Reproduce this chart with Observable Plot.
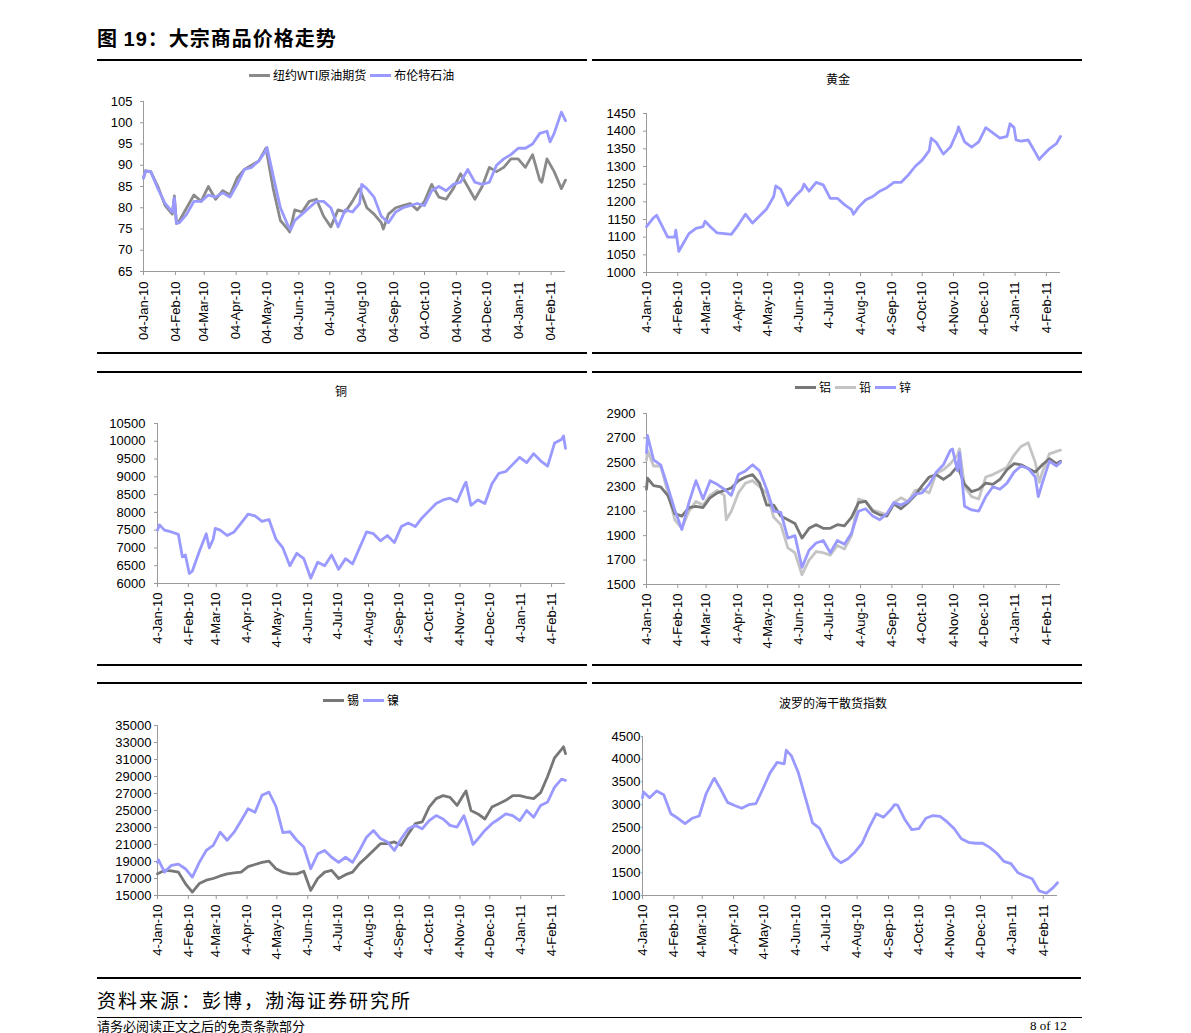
<!DOCTYPE html>
<html><head><meta charset="utf-8">
<script src="https://cdn.jsdelivr.net/npm/d3@7"></script>
<script src="https://cdn.jsdelivr.net/npm/@observablehq/plot@0.6"></script>
<style>
body{margin:0;width:1191px;height:1033px;overflow:hidden;background:#fff;position:relative;font-family:"Liberation Sans",Arial,sans-serif;color:#000}
.rule{position:absolute;height:2px;background:#000}
.cjk{font-family:"Noto Sans CJK SC",sans-serif}
.leg{position:absolute;font-size:12px;line-height:16px;white-space:nowrap;font-family:"Noto Sans CJK SC",sans-serif;display:flex;align-items:center}
.sw{display:inline-block;width:21px;height:3px;margin-right:3px}
.lt{margin-right:4px}
.ttl{position:absolute;font-size:12px;line-height:16px;white-space:nowrap;font-family:"Noto Sans CJK SC",sans-serif;transform:translateX(-50%)}
.panel{position:absolute}
g[aria-label="x-axis tick"], g[aria-label="y-axis tick"]{stroke:#9a9a9a}
</style></head>
<body>
<script>
// ---------- data ----------
const dates = ["2010-01-04","2010-01-11","2010-01-18","2010-01-25","2010-02-01","2010-02-08","2010-02-15","2010-02-22","2010-03-01","2010-03-08","2010-03-15","2010-03-22","2010-03-29","2010-04-05","2010-04-12","2010-04-19","2010-04-26","2010-05-03","2010-05-10","2010-05-17","2010-05-24","2010-05-31","2010-06-07","2010-06-14","2010-06-21","2010-06-28","2010-07-05","2010-07-12","2010-07-19","2010-07-26","2010-08-02","2010-08-09","2010-08-16","2010-08-23","2010-08-30","2010-09-06","2010-09-13","2010-09-20","2010-09-27","2010-10-04","2010-10-11","2010-10-18","2010-10-25","2010-11-01","2010-11-08","2010-11-15","2010-11-22","2010-11-29","2010-12-06","2010-12-13","2010-12-20","2010-12-27","2011-01-03","2011-01-10","2011-01-17","2011-01-24","2011-01-31","2011-02-07","2011-02-14","2011-02-18"];
const tickDates = ["2010-01-04","2010-02-04","2010-03-04","2010-04-04","2010-05-04","2010-06-04","2010-07-04","2010-08-04","2010-09-04","2010-10-04","2010-11-04","2010-12-04","2011-01-04","2011-02-04"];
const xDomain = ["2010-01-04","2011-02-18"];

// weekly readings
const wti   = [87,88.5,85,80.5,78.5,77,80,83,81.5,85,82,84,83,87,89,90,91,94,84.5,77,75,79.5,79,81.5,82,78,75.5,79.5,79,81.5,84.5,80,78.5,76.5,78.5,80,80.5,81,79.5,81.5,85.5,82.5,82,84.5,88,85,82,85,89.5,88.5,89.5,91.5,91.5,89.5,92.5,86.5,91.5,88.5,84.5,86.5];
const brent = [87,88.5,84.5,81,79,76.5,78.5,81.5,81.5,83,82.5,83.5,82.5,85.5,89,89.5,91,93.5,87.5,80,76,77,78.5,80,81.5,81.5,80,75.5,79.5,79,81,84.5,82.5,78,76.5,79,80,80.5,81,80.5,84,85,84,85.5,86,89,86,85.5,86,90,91.5,92.5,94,94,95,97.5,98,97.5,102.5,100.5];
const gold  = [1130,1155,1140,1100,1100,1075,1110,1125,1130,1130,1112,1110,1108,1135,1165,1140,1160,1180,1215,1235,1190,1215,1235,1230,1255,1248,1210,1210,1192,1178,1185,1205,1215,1230,1240,1255,1255,1275,1300,1318,1345,1368,1335,1355,1400,1370,1355,1370,1410,1395,1380,1385,1410,1372,1375,1340,1330,1350,1365,1385];
const copper = [7500,7500,7450,7380,6800,6350,6900,7400,7250,7500,7350,7450,7700,7950,7900,7750,7800,7250,7000,6500,6850,6700,6150,6600,6500,6800,6400,6700,6550,7000,7450,7400,7200,7350,7150,7600,7700,7600,7850,8050,8250,8350,8400,8300,8750,8200,8350,8250,8800,9100,9150,9350,9550,9400,9650,9450,9300,9950,10050,9800];
const aluminum = [2280,2310,2300,2230,2080,2060,2130,2140,2130,2210,2250,2270,2290,2350,2380,2400,2330,2150,2150,2060,2030,2000,1880,1960,1990,1960,1960,1990,1980,2050,2170,2180,2100,2070,2060,2160,2120,2170,2230,2310,2380,2400,2360,2400,2470,2320,2260,2280,2330,2320,2360,2440,2490,2480,2450,2420,2480,2530,2490,2510];
const lead = [2520,2470,2470,2260,2030,1960,2100,2180,2150,2230,2270,2230,2100,2250,2330,2350,2300,2250,2050,1990,1800,1760,1580,1700,1770,1760,1740,1820,1790,1900,2200,2180,2110,2090,2070,2170,2210,2180,2270,2280,2250,2410,2440,2490,2560,2300,2220,2200,2380,2400,2430,2460,2560,2630,2660,2500,2420,2570,2590,2600];
const zinc = [2580,2520,2480,2300,2110,1950,2170,2350,2200,2350,2320,2280,2230,2400,2430,2480,2430,2280,2100,2090,1880,1900,1640,1780,1840,1860,1760,1860,1830,1920,2100,2120,2060,2030,2080,2170,2150,2180,2240,2250,2320,2420,2480,2600,2430,2140,2110,2100,2220,2300,2280,2330,2420,2470,2450,2380,2330,2510,2470,2500];
const tin = [17550,17950,17900,17750,16400,15400,16400,16800,17000,17300,17550,17650,17750,18400,18650,18900,19050,18150,17750,17550,17550,17850,15600,17000,17750,17950,17000,17450,17750,18750,19500,20300,21100,21100,21300,20900,22250,23450,23650,25400,26400,26750,26550,25600,26950,25000,24600,24000,25400,25800,26200,26750,26750,26550,26400,27100,29000,31200,32200,31700];
const nickel = [18900,17750,18550,18700,18150,17150,18900,20300,20900,22450,21500,22450,23800,25200,24800,26800,27160,25500,22400,22500,21500,20700,18150,19900,20300,19500,18900,19500,18900,20300,21850,22650,21700,21300,20300,21700,22850,23250,22850,23800,24400,24000,23250,23050,24400,21850,21650,22650,23450,24000,24600,24400,23800,25000,24200,25600,26000,27750,28700,28550];
const bdi = [3150,3150,3300,3220,2800,2700,2580,2700,2750,3250,3550,3350,3050,2980,2920,3000,3020,3350,3700,3930,3900,4080,3700,3150,2600,2480,2150,1850,1720,1810,1960,2150,2500,2800,2720,2880,2990,2680,2450,2470,2700,2760,2740,2620,2470,2250,2170,2150,2150,2060,1930,1750,1700,1500,1430,1370,1100,1050,1180,1280];

// extra readings at visible peaks and troughs between the weekly points
const wtiExtra = [["2010-01-06",88.7],["2010-02-03",82.8],["2010-02-05",76.3],["2010-05-26",74.3],["2010-08-25",75],["2011-01-26",86]];
const brentExtra = [["2010-01-06",88.7],["2010-02-03",82.3],["2010-02-05",76.3],["2010-05-04",94.2],["2010-05-27",74.8],["2010-08-04",85.5],["2011-02-03",95.5]];
const goldExtra = [["2010-01-14",1162],["2010-02-02",1120],["2010-02-05",1060],["2010-03-03",1145],["2010-05-12",1245],["2010-06-09",1250],["2010-07-28",1165],["2010-10-13",1380],["2010-11-09",1412],["2010-12-30",1421],["2011-01-05",1375],["2011-01-28",1320]];
const copperExtra = [["2010-01-06",7650],["2010-01-29",6750],["2010-02-05",6280],["2010-02-25",7000],["2010-03-03",7550],["2010-11-10",8850],["2011-02-16",10150]];
const aluminumExtra = [["2010-01-05",2370]];
const leadExtra = [["2010-01-05",2600],["2010-03-24",2030],["2010-11-10",2610],["2011-01-28",2336]];
const zincExtra = [["2010-01-05",2720],["2010-11-03",2610],["2010-11-10",2580],["2011-01-27",2220]];
const tinExtra = [["2010-11-10",27300],["2011-02-16",32500]];
const nickelExtra = [["2010-01-05",19200],["2010-11-17",21000]];
const bdiExtra = [["2010-01-05",3280],["2010-03-16",3580],["2010-05-26",4200],["2010-09-10",3000]];

// ---------- helpers ----------
const root = document.body;
function add(html){ root.insertAdjacentHTML("beforeend", html); }
function toRows(values, extra){
  const rows = dates.map((d,i)=>({date:new Date(d), value:values[i]}));
  for (const [d,v] of (extra||[])) rows.push({date:new Date(d), value:v});
  return rows.sort((a,b)=>a.date-b.date);
}

function panel(o){
  const x0 = new Date(xDomain[0]), x1 = new Date(xDomain[1]);
  const marks = [
    Plot.ruleX([x0],{stroke:"#9a9a9a", strokeWidth:1}),
    Plot.ruleY([o.y[0]],{stroke:"#9a9a9a", strokeWidth:1})
  ];
  for (const s of o.series) {
    marks.push(Plot.lineY(toRows(s.values, s.extra),{x:"date", y:"value", stroke:s.color, strokeWidth:2.8}));
  }
  const svg = Plot.plot({
    width:490, height:o.height,
    marginTop:o.mt, marginBottom:o.mb, marginLeft:o.ml, marginRight:o.mr,
    style:{fontFamily:'"Liberation Sans",Arial,sans-serif', fontSize:"13px", color:"#000", background:"transparent", overflow:"visible"},
    x:{type:"utc", domain:[x0,x1], ticks:tickDates.map(d=>new Date(d)), tickFormat:d3.utcFormat(o.fmt), tickRotate:-90, tickSize:4, tickPadding:o.xpad ?? 5, label:null},
    y:{domain:o.y, ticks:d3.range(o.y[0], o.y[1]+o.step/2, o.step), tickFormat:d3.format("d"), tickSize:o.ytick ?? 3, tickPadding:o.ypad, label:null},
    marks
  });
  const div = document.createElement("div");
  div.className = "panel";
  div.style.left = o.left + "px";
  div.style.top = o.top + "px";
  div.appendChild(svg);
  root.appendChild(div);
}

// ---------- page furniture ----------
add('<div class="cjk" style="position:absolute;left:97px;top:25px;font-size:20px;font-weight:bold;letter-spacing:1px;line-height:26px;white-space:nowrap">图 <span style="font-family:\'Liberation Sans\',Arial,sans-serif">19</span>：大宗商品价格走势</div>');
for (const y of [59,352,371,664,682]) {
  add(`<div class="rule" style="left:97px;top:${y}px;width:490px"></div>`);
  add(`<div class="rule" style="left:592px;top:${y}px;width:490px"></div>`);
}
add('<div class="rule" style="left:97px;top:977px;width:984px"></div>');
add('<div class="rule" style="left:97px;top:1017px;width:985px;height:1px"></div>');
add('<div class="cjk" style="position:absolute;left:97px;top:987px;font-size:19px;letter-spacing:2px;line-height:26px;white-space:nowrap">资料来源：彭博，渤海证券研究所</div>');
add('<div class="cjk" style="position:absolute;left:97px;top:1019px;font-size:13px;line-height:13px;white-space:nowrap">请务必阅读正文之后的免责条款部分</div>');
add('<div style="position:absolute;left:1030px;top:1019px;font-size:13px;line-height:13px;font-family:\'Liberation Serif\',serif;white-space:nowrap">8 of 12</div>');

// legends & titles
add('<div class="leg" style="left:249px;top:67px"><span class="sw" style="background:#8a8a8a"></span><span class="lt">纽约WTI原油期货</span><span class="sw" style="background:#9999ff"></span><span>布伦特石油</span></div>');
add('<div class="ttl" style="left:838px;top:71px">黄金</div>');
add('<div class="ttl" style="left:341px;top:383px">铜</div>');
add('<div class="leg" style="left:795px;top:379px"><span class="sw" style="background:#777"></span><span class="lt">铝</span><span class="sw" style="background:#c4c4c4"></span><span class="lt">铅</span><span class="sw" style="background:#9999ff"></span><span>锌</span></div>');
add('<div class="leg" style="left:323px;top:692px"><span class="sw" style="background:#777"></span><span class="lt">锡</span><span class="sw" style="background:#9999ff"></span><span>镍</span></div>');
add('<div class="ttl" style="left:833px;top:695px">波罗的海干散货指数</div>');

// ---------- panels ----------
panel({left:97, top:88, height:262, mt:13, mb:79, ml:46, mr:22, y:[65,105], step:5, fmt:"%d-%b-%y", ypad:8, xpad:6,
  series:[{values:wti,extra:wtiExtra,color:"#8a8a8a"},{values:brent,extra:brentExtra,color:"#9999ff"}]});
panel({left:592, top:95, height:255, mt:18, mb:78, ml:54, mr:22, y:[1000,1450], step:50, fmt:"%-d-%b-%y", ypad:8,
  series:[{values:gold,extra:goldExtra,color:"#9999ff"}]});
panel({left:97, top:405, height:257, mt:18, mb:79, ml:60, mr:22, y:[6000,10500], step:500, fmt:"%-d-%b-%y", ypad:9,
  series:[{values:copper,extra:copperExtra,color:"#9999ff"}]});
panel({left:592, top:400, height:262, mt:13, mb:78, ml:54, mr:22, y:[1500,2900], step:200, fmt:"%-d-%b-%y", ypad:8,
  series:[{values:lead,extra:leadExtra,color:"#c4c4c4"},{values:aluminum,extra:aluminumExtra,color:"#777"},{values:zinc,extra:zincExtra,color:"#9999ff"}]});
panel({left:97, top:712, height:263, mt:13, mb:80, ml:60, mr:22, y:[15000,35000], step:2000, fmt:"%-d-%b-%y", ypad:3,
  series:[{values:tin,extra:tinExtra,color:"#777"},{values:nickel,extra:nickelExtra,color:"#9999ff"}]});
panel({left:592, top:720, height:255, mt:16, mb:80, ml:50, mr:25, y:[1000,4500], step:500, fmt:"%-d-%b-%y", ypad:1, ytick:1,
  series:[{values:bdi,extra:bdiExtra,color:"#9999ff"}]});
</script>
</body></html>
